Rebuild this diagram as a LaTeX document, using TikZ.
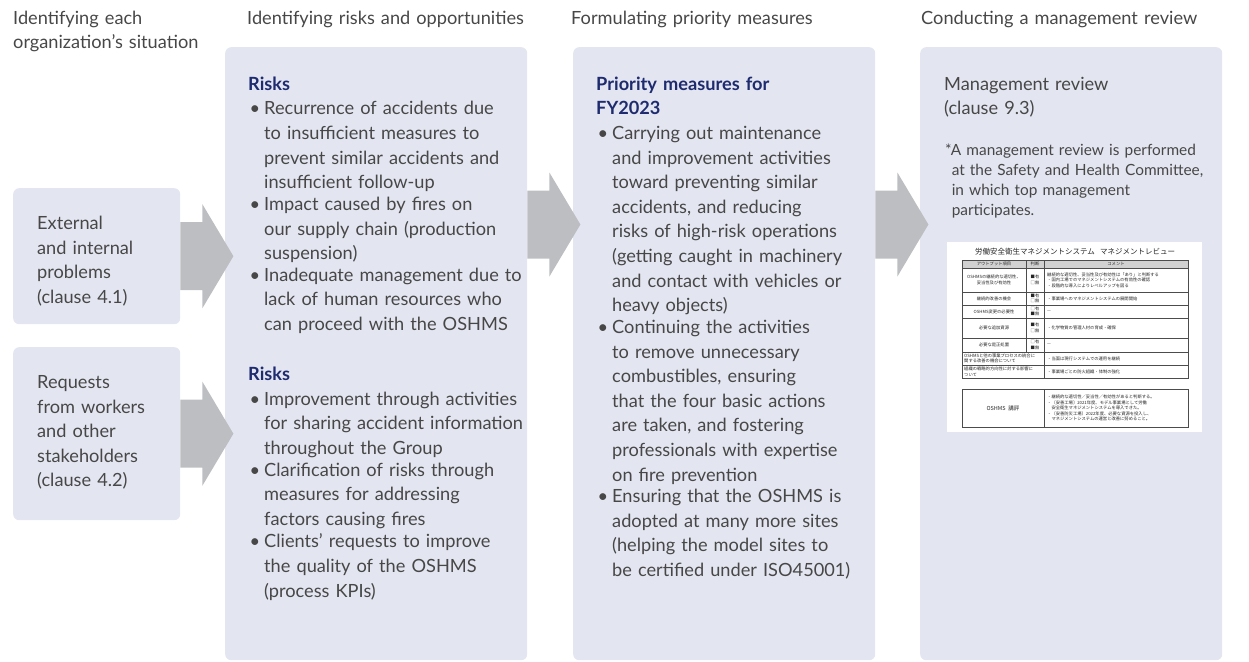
\documentclass[tikz,border=0pt]{standalone}
\usepackage{fontspec}
\setmainfont{Lato}
\newfontfamily\cjk{Noto Sans CJK JP}
\definecolor{boxfill}{HTML}{E3E5F0}
\definecolor{arrowgray}{HTML}{BDBEC1}
\definecolor{txt}{HTML}{474747}
\definecolor{navy}{HTML}{1E2B6F}
\tikzset{
  panel/.style={fill=boxfill, rounded corners=6pt, draw=none, anchor=north west, inner sep=0pt},
  label/.style={anchor=north west, inner sep=0pt, align=left, text=txt,
    font=\fontsize{18.2}{24.6}\selectfont, execute at begin node={\parindent=0pt\strut}},
  note/.style={anchor=north west, inner sep=0pt, align=left, text=txt,
    font=\fontsize{15.4}{20}\selectfont, execute at begin node={\parindent=0pt\strut}},
  arrowfill/.style={fill=arrowgray},
  tline/.style={draw=black!70, line width=0.5pt},
  jtext/.style={font=\cjk\fontsize{4.3}{5.6}\selectfont, inner sep=0pt, text=black!85},
}
\newcommand\bitem[1]{\par\noindent\makebox[16pt][l]{\hspace{1.5pt}\textbullet}\parbox[t]{280pt}{\raggedright #1\strut}\par}
\newcommand\ttl[1]{\textcolor{navy}{\bfseries #1}}
\newcommand\blockarr[1]{\fill[arrowfill] (#1) ++(0,-34) -- ++(22,0) -- ++(0,-18) -- ++(31,52) -- ++(-31,52) -- ++(0,-18) -- ++(-22,0) -- cycle;}
\begin{document}
\begin{tikzpicture}[x=1pt,y=-1pt]
\useasboundingbox (0,0) rectangle (1249,661);
% headers
\node[label, text width=220pt] (h1) at (13,6.8) {Identifying each\\organization’s situation};
\node[label, text width=300pt] (h2) at (247,6.8) {Identifying risks and opportunities};
\node[label, text width=300pt] (h3) at (571,6.8) {Formulating priority measures};
\node[label, text width=320pt] (h4) at (921,6.8) {Conducting a management review};
% panels
\node[panel, minimum width=167pt, minimum height=136pt] (p1) at (13,188) {};
\node[panel, minimum width=167pt, minimum height=173pt] (p2) at (13,347) {};
\node[panel, minimum width=302pt, minimum height=613pt] (b2) at (225,47) {};
\node[panel, minimum width=302pt, minimum height=613pt] (b3) at (573,47) {};
\node[panel, minimum width=302pt, minimum height=613pt] (b4) at (920,47) {};
% arrows
\coordinate (a3) at (0,224.5);
\blockarr{p1.east}
\blockarr{p2.east}
\blockarr{b2.east |- a3}
\blockarr{b3.east |- a3}
% left texts
\node[label, text width=140pt] (t1) at (37,212) {External\\and internal\\problems\\(clause 4.1)};
\node[label, text width=140pt] (t1b) at (37,371) {Requests\\from workers\\and other\\stakeholders\\(clause 4.2)};
% box 2
\node[label, text width=290pt] (t2) at (248,72.8) {\ttl{Risks}
\bitem{Recurrence of accidents due\\to insufficient measures to\\prevent similar accidents and\\insufficient follow-up}
\bitem{Impact caused by fires on\\our supply chain (production\\suspension)}
\bitem{Inadequate management due to\\lack of human resources who\\can proceed with the OSHMS}
\vskip 24.6pt\noindent\strut\ttl{Risks}
\bitem{Improvement through activities\\for sharing accident information\\throughout the Group}
\bitem{Clarification of risks through\\measures for addressing\\factors causing fires}
\bitem{Clients’ requests to improve\\the quality of the OSHMS\\(process KPIs)}};
% box 3
\node[label, text width=290pt] (t3) at (596,72.8) {\ttl{Priority measures for}\par\noindent\strut\ttl{FY2023}
\bitem{Carrying out maintenance\\and improvement activities\\toward preventing similar\\accidents, and reducing\\risks of high-risk operations\\(getting caught in machinery\\and contact with vehicles or\\heavy objects)}
\bitem{Continuing the activities\\to remove unnecessary\\combustibles, ensuring\\that the four basic actions\\are taken, and fostering\\professionals with expertise\\on fire prevention}
\bitem{Ensuring that the OSHMS is\\adopted at many more sites\\(helping the model sites to\\be certified under ISO45001)}};
% box 4
\node[label, text width=270pt] (t4) at (944,72.8) {Management review\\(clause 9.3)};
\node[note, text width=275pt] (n4) at (945,141.5) {*A management review is performed\\\phantom{*}at the Safety and Health Committee,\\\phantom{*}in which top management\\\phantom{*}participates.};
% embedded review sheet
\node[fill=white, minimum width=255pt, minimum height=190pt, anchor=north west, inner sep=0pt] (img) at (947,242) {};
\node[font=\cjk\fontsize{7.5}{8}\selectfont, inner sep=0pt, text=black!85] (jtitle) at (1075,252) {労働安全衛生マネジメントシステム\hspace{0.7em}マネジメントレビュー};
\fill[black!18] (962,260) rectangle (1188,268);
\draw[tline] (962,260) rectangle (1188,378);
\foreach \yy in {268,292,305,318,338,352,365} \draw[tline] (962,\yy) -- (1188,\yy);
\draw[tline] (1026,260) -- (1026,352);
\draw[tline] (1044,260) -- (1044,378);
\draw[tline] (962,389) rectangle (1188,427);
\draw[tline] (1044,389) -- (1044,427);
\node[jtext] (jh1) at (994,264) {アウトプット項目};
\node[jtext] (jh2) at (1035,264) {判断};
\node[jtext] (jh3) at (1116,264) {コメント};
\node[jtext, align=center] (jl1) at (994,280) {OSHMSの継続的な適切性、\\妥当性及び有効性};
\node[jtext] (jl2) at (994,298.5) {継続的改善の機会};
\node[jtext] (jl3) at (994,311.5) {OSHMS変更の必要性};
\node[jtext] (jl4) at (994,328) {必要な追加資源};
\node[jtext] (jl5) at (994,345) {必要な是正処置};
\node[jtext, align=left, anchor=west] (jl6) at (964,358.5) {OSHMSと他の事業プロセスの統合に\\関する改善の機会について};
\node[jtext, align=left, anchor=west] (jl7) at (964,371.5) {組織の戦略的方向性に対する影響に\\ついて};
\node[jtext, align=left] (jj1) at (1035,280) {■有\\□無};
\node[jtext, align=left] (jj2) at (1035,298.5) {■有\\□無};
\node[jtext, align=left] (jj3) at (1035,311.5) {□有\\■無};
\node[jtext, align=left] (jj4) at (1035,328) {■有\\□無};
\node[jtext, align=left] (jj5) at (1035,345) {□有\\■無};
\node[jtext, align=left, anchor=west] (jc1) at (1047,280) {継続的な適切性、妥当性及び有効性は「あり」と判断する\\・国内工場でのマネジメントシステムの有効性の確認\\・段階的な導入によりレベルアップを図る};
\node[jtext, anchor=west] (jc2) at (1047,298.5) {・事業場へのマネジメントシステムの展開開始};
\node[jtext, anchor=west] (jc3) at (1047,311.5) {—};
\node[jtext, anchor=west] (jc4) at (1047,328) {・化学物質の管理人材の育成・確保};
\node[jtext, anchor=west] (jc5) at (1047,345) {—};
\node[jtext, anchor=west] (jc6) at (1047,358.5) {・当面は現行システムでの運用を継続};
\node[jtext, anchor=west] (jc7) at (1047,371.5) {・事業場ごとの防火組織・体制の強化};
\node[font=\cjk\fontsize{5.5}{6}\selectfont, inner sep=0pt, text=black!85] (jrev) at (1003,408) {OSHMS\hspace{0.5em}講評};
\node[jtext, align=left, anchor=west] (jrevc) at (1047,408) {・継続的な適切性／妥当性／有効性があると判断する。\\・〔安善工場〕2021年度、モデル事業場として労働\\　安全衛生マネジメントシステムを導入できた。\\・〔安善防災工場〕2022年度、必要な資源を投入し、\\　マネジメントシステムの運営と改善に努めること。};
\end{tikzpicture}
\end{document}
